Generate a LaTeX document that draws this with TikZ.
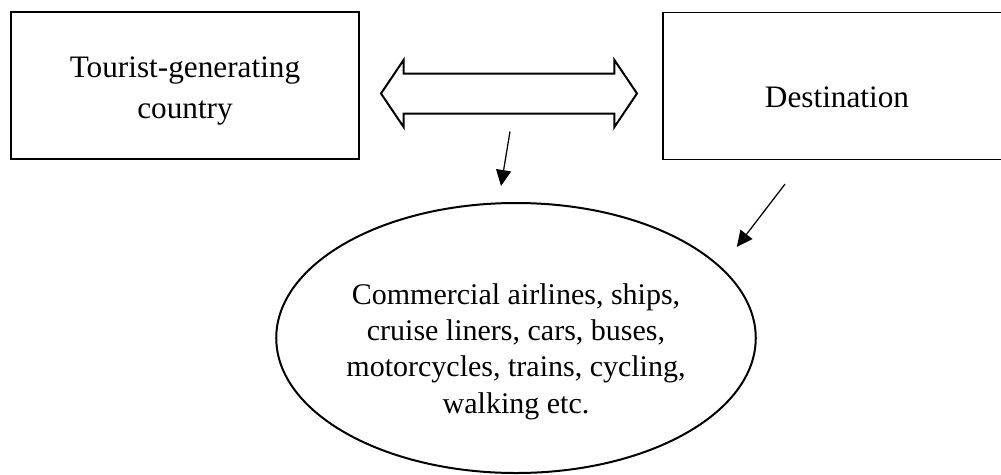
\documentclass[tikz,border=0pt]{standalone}
\usepackage{fontspec}
\setmainfont{Liberation Serif}
\usetikzlibrary{arrows.meta,shapes.geometric,shapes.arrows}

\begin{document}
\begin{tikzpicture}[
    x=0.4pt, y=-0.4pt,
    >={Triangle[length=6.4pt,width=6pt]},
    box/.style={draw, line width=0.5pt, minimum width=139.2pt, minimum height=58.8pt, inner sep=0pt, align=center, font=\fontsize{12.5}{16.4}\selectfont},
    link/.style={double arrow, draw, line width=0.8pt, minimum height=102.4pt, minimum width=26pt, double arrow head extend=5.4pt, double arrow tip angle=112, inner xsep=0pt, inner ysep=7.6pt},
    oval/.style={ellipse, draw, line width=0.8pt, minimum width=191.2pt, minimum height=108pt, inner sep=0pt, align=center, font=\fontsize{12}{14.5}\selectfont},
    feed/.style={->, line width=0.5pt}
]
\clip (0,0) rectangle (1001,474);
\node[box, text height=26pt, text depth=0pt] (gen) at (185,85.5) {Tourist-generating\\country};
\node[box, text height=16.8pt, text depth=0pt] (dest) at (837,86) {Destination};
\node[link] (link) at (509,93.5) {};
\node[oval, text height=60pt, text depth=0pt] (trans) at (516,338) {Commercial airlines, ships,\\cruise liners, cars, buses,\\motorcycles, trains, cycling,\\walking etc.};
\draw[feed] ([shift={(1,17)}]link.south) -- ([shift={(-15,-16)}]trans.north);
\draw[feed] ([shift={(-52,24)}]dest.south) -- ([shift={(-20,-91)}]trans.east);
\end{tikzpicture}
\end{document}
